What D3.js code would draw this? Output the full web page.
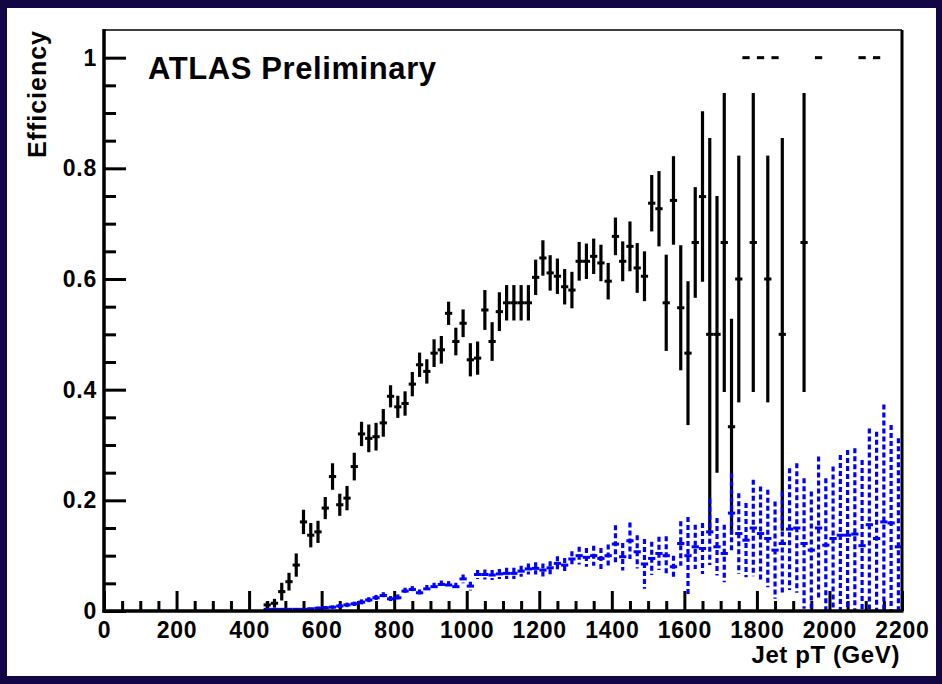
<!DOCTYPE html>
<html>
<head>
<meta charset="utf-8">
<script src="https://cdn.jsdelivr.net/npm/d3@7"></script>
<style>
  html, body { margin: 0; padding: 0; background: #120645; }
  svg { display: block; }
  text { font-family: "Liberation Sans", Arial, Helvetica, sans-serif; font-weight: bold; fill: #000; }
</style>
</head>
<body>
<svg id="chart" width="942" height="684"></svg>
<script>
// Bin half-width of the jet pT histograms (GeV)
const halfBin = 10;

// Black series: jet pT bin centres (GeV), efficiency and its uncertainty
const blackPt = [
  450, 470, 490, 510, 530, 550, 570, 590, 610, 630,
  650, 670, 690, 710, 730, 750, 770, 790, 810, 830,
  850, 870, 890, 910, 930, 950, 970, 990, 1010, 1030,
  1050, 1070, 1090, 1110, 1130, 1150, 1170, 1190, 1210, 1230,
  1250, 1270, 1290, 1310, 1330, 1350, 1370, 1390, 1410, 1430,
  1450, 1470, 1490, 1510, 1530, 1550, 1570, 1590, 1610, 1630,
  1650, 1670, 1690, 1710, 1730, 1750, 1770, 1790, 1810, 1830,
  1850, 1870, 1930, 1970, 2090, 2130
];
const blackEff = [
  0.011, 0.014, 0.035, 0.053, 0.083, 0.161, 0.137, 0.143, 0.186, 0.243,
  0.192, 0.204, 0.261, 0.320, 0.312, 0.315, 0.340, 0.388, 0.369, 0.375,
  0.410, 0.445, 0.433, 0.466, 0.472, 0.538, 0.487, 0.520, 0.454, 0.457,
  0.544, 0.487, 0.541, 0.557, 0.557, 0.557, 0.557, 0.603, 0.638, 0.611,
  0.605, 0.586, 0.580, 0.632, 0.632, 0.641, 0.629, 0.596, 0.677, 0.632,
  0.659, 0.620, 0.605, 0.737, 0.727, 0.557, 0.742, 0.548, 0.466, 0.666,
  0.749, 0.500, 0.500, 0.666, 0.333, 0.600, 1.000, 0.666, 1.000, 0.600,
  1.000, 0.500, 0.666, 1.000, 1.000, 1.000
];
const blackErr = [
  0.006, 0.008, 0.016, 0.016, 0.021, 0.022, 0.022, 0.020, 0.020, 0.024,
  0.020, 0.022, 0.025, 0.022, 0.025, 0.025, 0.025, 0.020, 0.020, 0.022,
  0.022, 0.022, 0.022, 0.025, 0.025, 0.021, 0.025, 0.025, 0.030, 0.030,
  0.036, 0.035, 0.035, 0.032, 0.032, 0.032, 0.032, 0.032, 0.032, 0.032,
  0.032, 0.032, 0.033, 0.035, 0.032, 0.032, 0.033, 0.033, 0.034, 0.036,
  0.045, 0.045, 0.045, 0.051, 0.068, 0.087, 0.080, 0.113, 0.130, 0.100,
  0.154, 0.355, 0.250, 0.270, 0.195, 0.223, 0.000, 0.270, 0.000, 0.223,
  0.000, 0.355, 0.270, 0.000, 0.000, 0.000
];

// Blue series: jet pT bin centres (GeV), efficiency and its uncertainty
const bluePt = [
  450, 470, 490, 510, 530, 550, 570, 590, 610, 630,
  650, 670, 690, 710, 730, 750, 770, 790, 810, 830,
  850, 870, 890, 910, 930, 950, 970, 990, 1010, 1030,
  1050, 1070, 1090, 1110, 1130, 1150, 1170, 1190, 1210, 1230,
  1250, 1270, 1290, 1310, 1330, 1350, 1370, 1390, 1410, 1430,
  1450, 1470, 1490, 1510, 1530, 1550, 1570, 1590, 1610, 1630,
  1650, 1670, 1690, 1710, 1730, 1750, 1770, 1790, 1810, 1830,
  1850, 1870, 1890, 1910, 1930, 1950, 1970, 1990, 2010, 2030,
  2050, 2070, 2090, 2110, 2130, 2150, 2170, 2190
];
const blueEff = [
  0.003, 0.003, 0.003, 0.003, 0.003, 0.003, 0.004, 0.005, 0.006, 0.007,
  0.009, 0.011, 0.013, 0.016, 0.020, 0.024, 0.028, 0.022, 0.024, 0.036,
  0.039, 0.033, 0.040, 0.044, 0.048, 0.047, 0.044, 0.058, 0.045, 0.066,
  0.066, 0.065, 0.067, 0.068, 0.068, 0.072, 0.076, 0.077, 0.074, 0.078,
  0.086, 0.083, 0.094, 0.100, 0.097, 0.100, 0.095, 0.100, 0.121, 0.098,
  0.127, 0.107, 0.085, 0.095, 0.104, 0.100, 0.080, 0.122, 0.100, 0.116,
  0.113, 0.143, 0.116, 0.104, 0.177, 0.140, 0.128, 0.150, 0.140, 0.131,
  0.110, 0.122, 0.148, 0.150, 0.122, 0.110, 0.150, 0.119, 0.131, 0.137,
  0.137, 0.139, 0.118, 0.156, 0.131, 0.161, 0.159, 0.116
];
const blueErr = [
  0.001, 0.001, 0.001, 0.001, 0.001, 0.002, 0.002, 0.003, 0.003, 0.003,
  0.004, 0.004, 0.004, 0.005, 0.005, 0.005, 0.006, 0.005, 0.006, 0.006,
  0.006, 0.006, 0.007, 0.007, 0.007, 0.007, 0.007, 0.008, 0.008, 0.008,
  0.009, 0.009, 0.009, 0.010, 0.010, 0.010, 0.010, 0.011, 0.012, 0.012,
  0.013, 0.013, 0.014, 0.016, 0.017, 0.018, 0.019, 0.020, 0.034, 0.025,
  0.033, 0.030, 0.045, 0.030, 0.030, 0.035, 0.020, 0.040, 0.070, 0.040,
  0.046, 0.060, 0.052, 0.052, 0.072, 0.073, 0.067, 0.087, 0.085, 0.088,
  0.088, 0.094, 0.110, 0.117, 0.118, 0.106, 0.129, 0.121, 0.130, 0.145,
  0.154, 0.155, 0.155, 0.174, 0.193, 0.212, 0.177, 0.196
];

// Axis ticks and labels
const xMajorTicks = [0, 200, 400, 600, 800, 1000, 1200, 1400, 1600, 1800, 2000, 2200];
const yMajorTicks = [0, 0.2, 0.4, 0.6, 0.8, 1];
const yTickLabels = ["0", "0.2", "0.4", "0.6", "0.8", "1"];
const xMinorStep = 50;
const yMinorStep = 0.05;

const width = 942, height = 684;
const plot = { left: 104, right: 902, top: 30, bottom: 611 };

const svg = d3.select("#chart");

// Canvas: dark border with a white page
svg.append("rect").attr("width", width).attr("height", height).attr("fill", "#120645");
svg.append("rect").attr("x", 7).attr("y", 8).attr("width", 929).attr("height", 668).attr("fill", "#ffffff");

const x = d3.scaleLinear().domain([0, 2200]).range([plot.left, plot.right]);
const y = d3.scaleLinear().domain([0, 1.05]).range([plot.bottom, plot.top]);

svg.append("clipPath").attr("id", "frame-clip")
  .append("rect")
  .attr("x", plot.left).attr("y", plot.top)
  .attr("width", plot.right - plot.left).attr("height", plot.bottom - plot.top);

const styleLabels = g => g.selectAll("text")
  .attr("font-size", 23).attr("fill", "#000")
  .style("font-family", "'Liberation Sans', Arial, sans-serif")
  .style("font-weight", "bold")
  .style("letter-spacing", "0.8px");

// Minor ticks
const xMinor = d3.range(0, 2200 + 1e-9, xMinorStep).filter(v => !xMajorTicks.includes(v));
const yMinor = d3.range(0, 1.05, yMinorStep).map(v => +v.toFixed(2)).filter(v => !yMajorTicks.includes(v));

svg.append("g")
  .attr("transform", `translate(0,${plot.bottom})`)
  .call(d3.axisBottom(x).tickValues(xMinor).tickSize(-10).tickFormat(""))
  .call(g => g.select(".domain").remove())
  .call(g => g.selectAll("line").attr("stroke", "#000").attr("stroke-width", 3));

svg.append("g")
  .attr("transform", `translate(${plot.left},0)`)
  .call(d3.axisLeft(y).tickValues(yMinor).tickSize(-12).tickFormat(""))
  .call(g => g.select(".domain").remove())
  .call(g => g.selectAll("line").attr("stroke", "#000").attr("stroke-width", 3));

// Major ticks with labels
svg.append("g")
  .attr("transform", `translate(0,${plot.bottom})`)
  .call(d3.axisBottom(x).tickValues(xMajorTicks).tickSize(-20).tickPadding(11).tickFormat(d3.format("d")))
  .call(g => g.select(".domain").remove())
  .call(g => g.selectAll("line").attr("stroke", "#000").attr("stroke-width", 3))
  .call(styleLabels);

svg.append("g")
  .attr("transform", `translate(${plot.left},0)`)
  .call(d3.axisLeft(y).tickValues(yMajorTicks).tickSize(-22).tickPadding(7)
    .tickFormat((d, i) => yTickLabels[i]))
  .call(g => g.select(".domain").remove())
  .call(g => g.selectAll("line").attr("stroke", "#000").attr("stroke-width", 3))
  .call(styleLabels);

// Data layer
const dataLayer = svg.append("g").attr("clip-path", "url(#frame-clip)");

const black = blackPt.map((pt, i) => ({ pt, eff: blackEff[i], err: blackErr[i] }));
const blue = bluePt.map((pt, i) => ({ pt, eff: blueEff[i], err: blueErr[i] }));

const gBlack = dataLayer.append("g");
gBlack.selectAll("line.v").data(black.filter(d => d.err > 0)).join("line")
  .attr("class", "v")
  .attr("x1", d => x(d.pt)).attr("x2", d => x(d.pt))
  .attr("y1", d => y(d.eff - d.err)).attr("y2", d => y(d.eff + d.err))
  .attr("stroke", "#000").attr("stroke-width", 3.2);
gBlack.selectAll("line.h").data(black).join("line")
  .attr("class", "h")
  .attr("x1", d => x(d.pt - halfBin)).attr("x2", d => x(d.pt + halfBin))
  .attr("y1", d => y(d.eff)).attr("y2", d => y(d.eff))
  .attr("stroke", "#000").attr("stroke-width", 3);

const gBlue = dataLayer.append("g");
gBlue.selectAll("line.v").data(blue.filter(d => d.err > 0)).join("line")
  .attr("class", "v")
  .attr("x1", d => x(d.pt)).attr("x2", d => x(d.pt))
  .attr("y1", d => y(d.eff + d.err)).attr("y2", d => y(d.eff - d.err))
  .attr("stroke", "#0000ff").attr("stroke-width", 3.2)
  .attr("stroke-dasharray", "5,3");
gBlue.selectAll("line.h").data(blue).join("line")
  .attr("class", "h")
  .attr("x1", d => x(d.pt - halfBin)).attr("x2", d => x(d.pt + halfBin))
  .attr("y1", d => y(d.eff)).attr("y2", d => y(d.eff))
  .attr("stroke", "#0000ff").attr("stroke-width", 3);

// Frame
const frame = svg.append("g");
frame.append("line").attr("x1", plot.left).attr("x2", plot.right).attr("y1", plot.top).attr("y2", plot.top)
  .attr("stroke", "#000").attr("stroke-width", 1.5);
frame.append("line").attr("x1", plot.right).attr("x2", plot.right).attr("y1", plot.top).attr("y2", plot.bottom)
  .attr("stroke", "#000").attr("stroke-width", 3);
frame.append("line").attr("x1", plot.left).attr("x2", plot.left).attr("y1", plot.top - 1).attr("y2", plot.bottom + 1.5)
  .attr("stroke", "#000").attr("stroke-width", 3.5);
frame.append("line").attr("x1", plot.left - 1.5).attr("x2", plot.right + 1.5).attr("y1", plot.bottom).attr("y2", plot.bottom)
  .attr("stroke", "#000").attr("stroke-width", 3.5);

// Titles
svg.append("text").attr("x", 900).attr("y", 663).attr("text-anchor", "end")
  .attr("font-size", 24).style("letter-spacing", "0.6px").text("Jet pT (GeV)");
svg.append("text").attr("transform", "translate(46,30) rotate(-90)").attr("text-anchor", "end")
  .attr("font-size", 25).style("letter-spacing", "1px").text("Efficiency");
svg.append("text").attr("x", 148).attr("y", 79).attr("font-size", 31)
  .style("letter-spacing", "0.6px").text("ATLAS Preliminary");
</script>
</body>
</html>
